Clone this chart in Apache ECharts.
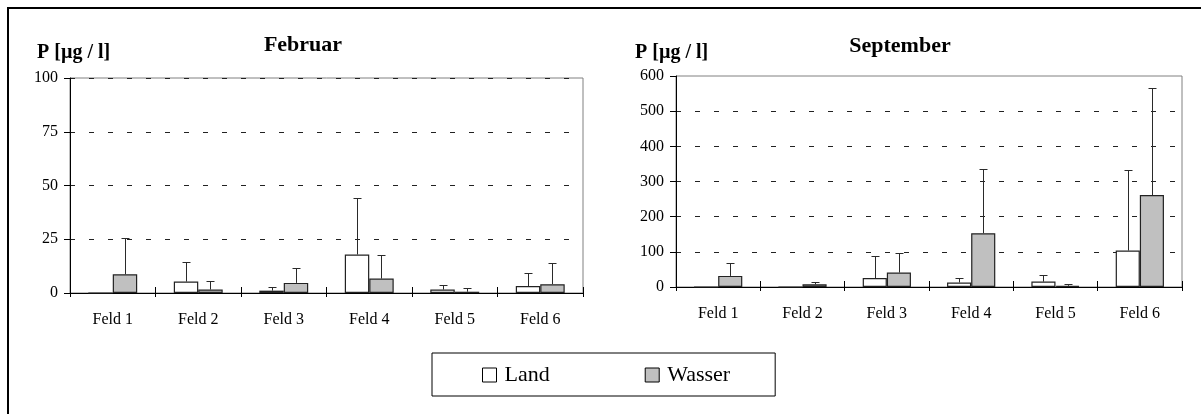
<!DOCTYPE html>
<html>
<head>
<meta charset="utf-8">
<script src="https://cdn.jsdelivr.net/npm/echarts@6/dist/echarts.min.js"></script>
<style>
html,body{margin:0;padding:0;background:#fff;}
#c{width:1201px;height:414px;}
</style>
</head>
<body>
<div id="c"></div>
<script>
const categories = ['Feld 1', 'Feld 2', 'Feld 3', 'Feld 4', 'Feld 5', 'Feld 6'];
const seriesNames = ['Land', 'Wasser'];
const panelTitles = ['Februar', 'September'];
const axisTitle = 'P [µg / l]';

// Februar
const febLand = [0, 5.3, 1.1, 17.9, 1.6, 3.2];
const febLandErr = [0, 9.2, 1.5, 26.1, 2.2, 6.2];
const febWasser = [8.7, 1.6, 4.7, 6.7, 0.6, 4.1];
const febWasserErr = [16.9, 4.2, 7.1, 11.2, 1.5, 9.9];

// September
const sepLand = [0, 0, 25.5, 13, 15.3, 103.6];
const sepLandErr = [0, 0, 61.8, 12.5, 19.7, 229.4];
const sepWasser = [31.5, 7.7, 41, 153, 3.4, 261.6];
const sepWasserErr = [37.3, 7.5, 56, 182.8, 6.2, 304.2];

const febTicks = {min: 0, max: 100, interval: 25};
const sepTicks = {min: 0, max: 600, interval: 100};

const FONT = '"Liberation Serif", "Times New Roman", serif';
const BAR_W = 0.286;

const chart = echarts.init(document.getElementById('c'), null, {renderer: 'canvas'});

function errSeries(name, gridIdx, vals, errs, sign) {
  return {
    name: name + ' Fehler',
    type: 'custom',
    xAxisIndex: gridIdx * 2,
    yAxisIndex: gridIdx,
    z: 5,
    silent: true,
    data: vals.map((v, i) => [i, v, errs[i]]),
    encode: {x: 0, y: 1},
    renderItem: function (params, api) {
      const i = api.value(0), v = api.value(1), e = api.value(2);
      if (!e) return null;
      const p0 = api.coord([i, v]);
      const p1 = api.coord([i, v + e]);
      const cw = api.size([1, 0])[0];
      const x = Math.round(p0[0] + sign * cw * BAR_W / 2) + 0.5;
      const y1 = Math.round(p1[1]) + 0.5;
      const st = {stroke: '#2a2a2a', lineWidth: 1};
      return {
        type: 'group',
        children: [
          {type: 'line', shape: {x1: x, y1: p0[1], x2: x, y2: y1}, style: st},
          {type: 'line', shape: {x1: x - 4, y1: y1, x2: x + 4, y2: y1}, style: st}
        ]
      };
    }
  };
}

function barSeries(name, gridIdx, vals, fill) {
  return {
    name: name,
    type: 'bar',
    xAxisIndex: gridIdx * 2,
    yAxisIndex: gridIdx,
    data: vals,
    barWidth: (BAR_W * 100) + '%',
    barGap: '0%',
    itemStyle: {color: fill, borderColor: '#222', borderWidth: 1.2},
    emphasis: {disabled: true},
    z: 3
  };
}

const grids = [
  {left: 70, right: 1201 - 583, top: 78, bottom: 414 - 293},
  {left: 676, right: 1201 - 1182, top: 76, bottom: 414 - 287}
];

const xAxes = [];
const yAxes = [];
[0, 1].forEach(g => {
  xAxes.push({
    type: 'category', gridIndex: g, data: categories, position: 'bottom',
    axisLine: {show: true, lineStyle: {color: '#000', width: 1}},
    axisTick: {show: true, inside: true, length: 6, lineStyle: {color: '#000'}},
    axisLabel: {color: '#000', fontFamily: FONT, fontSize: 16, margin: 19},
    splitLine: {show: false}
  });
  xAxes.push({
    type: 'category', gridIndex: g, data: categories, position: 'bottom', offset: 0,
    axisLine: {show: false},
    axisTick: {show: true, inside: false, length: 4, lineStyle: {color: '#000'}},
    axisLabel: {show: false},
    splitLine: {show: false}
  });
  const t = g === 0 ? febTicks : sepTicks;
  yAxes.push({
    type: 'value', gridIndex: g, min: t.min, max: t.max, interval: t.interval,
    axisLine: {show: true, lineStyle: {color: '#000', width: 1}},
    axisTick: {show: true, inside: false, length: 6, lineStyle: {color: '#000'}},
    axisLabel: {color: '#000', fontFamily: FONT, fontSize: 16, margin: 12},
    splitLine: {show: true, showMaxLine: g === 0, lineStyle: {color: '#222', width: 1, type: [5, 14]}}
  });
});

const option = {
  animation: false,
  backgroundColor: '#fff',
  grid: grids.map(g => Object.assign({show: true, borderColor: '#808080', borderWidth: 1, backgroundColor: 'transparent'}, g)),
  xAxis: xAxes,
  yAxis: yAxes,
  legend: {
    data: [
      {name: 'Land', itemStyle: {color: '#fff', borderColor: '#000', borderWidth: 1}},
      {name: 'Wasser', itemStyle: {color: '#c0c0c0', borderColor: '#000', borderWidth: 1}}
    ],
    left: 432, top: 353,
    orient: 'horizontal',
    icon: 'rect',
    itemWidth: 14, itemHeight: 14,
    itemGap: 95,
    padding: [11, 45, 10, 50],
    borderColor: '#000', borderWidth: 1,
    selectedMode: false,
    textStyle: {color: '#000', fontFamily: FONT, fontSize: 22, padding: [0, 0, 0, 3]}
  },
  graphic: [
    {type: 'rect', shape: {x: 8, y: 8, width: 1300, height: 600}, style: {fill: 'none', stroke: '#000', lineWidth: 2}, silent: true, z: 100},
    {type: 'text', x: 303, y: 45, style: {text: panelTitles[0], fontFamily: FONT, fontSize: 22, fontWeight: 'bold', fill: '#000', textAlign: 'center', textVerticalAlign: 'middle'}},
    {type: 'text', x: 900, y: 46, style: {text: panelTitles[1], fontFamily: FONT, fontSize: 22, fontWeight: 'bold', fill: '#000', textAlign: 'center', textVerticalAlign: 'middle'}},
    {type: 'text', x: 37, y: 53, style: {text: axisTitle, fontFamily: FONT, fontSize: 20, fontWeight: 'bold', fill: '#000', textAlign: 'left', textVerticalAlign: 'middle'}},
    {type: 'text', x: 635, y: 53, style: {text: axisTitle, fontFamily: FONT, fontSize: 20, fontWeight: 'bold', fill: '#000', textAlign: 'left', textVerticalAlign: 'middle'}}
  ],
  series: [
    barSeries(seriesNames[0], 0, febLand, '#fff'),
    barSeries(seriesNames[1], 0, febWasser, '#c0c0c0'),
    barSeries(seriesNames[0], 1, sepLand, '#fff'),
    barSeries(seriesNames[1], 1, sepWasser, '#c0c0c0'),
    errSeries(seriesNames[0], 0, febLand, febLandErr, -1),
    errSeries(seriesNames[1], 0, febWasser, febWasserErr, 1),
    errSeries(seriesNames[0], 1, sepLand, sepLandErr, -1),
    errSeries(seriesNames[1], 1, sepWasser, sepWasserErr, 1)
  ]
};
chart.setOption(option);
</script>
</body>
</html>
